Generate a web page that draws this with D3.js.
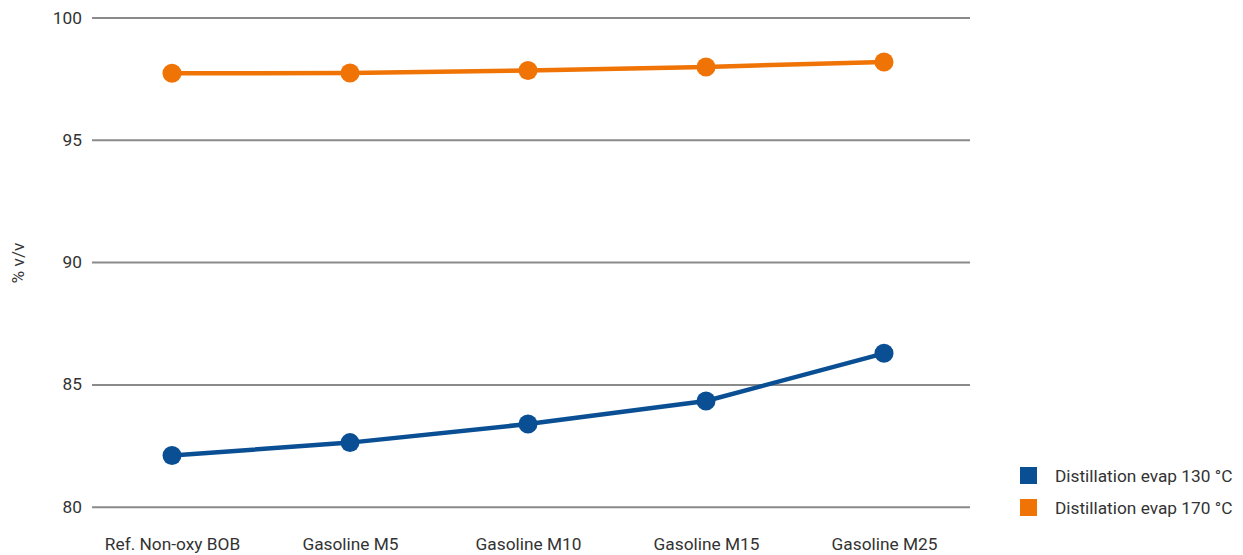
<!DOCTYPE html>
<html><head><meta charset="utf-8">
<script src="https://cdn.jsdelivr.net/npm/d3@7"></script>
<style>body{margin:0;background:#fff;} text{font-family:Roboto, "Liberation Sans", sans-serif;fill:#333;}</style>
</head><body><svg id="c" width="1243" height="555"></svg>
<script>
const categories = ["Ref. Non-oxy BOB","Gasoline M5","Gasoline M10","Gasoline M15","Gasoline M25"];
const evap130 = [82.09, 82.62, 83.38, 84.32, 86.27];
const evap170 = [97.72, 97.73, 97.83, 97.98, 98.18];
const yTicks = [80, 85, 90, 95, 100];
const seriesNames = ["Distillation evap 130 °C", "Distillation evap 170 °C"];
const colors = ["#0a4f94", "#f07305"];

const FS = 17.3;
const svg = d3.select("#c");
const x = d3.scalePoint().domain(categories).range([172, 884]);
const y = d3.scaleLinear().domain([80, 100]).range([506.7, 17.5]);

// gridlines + y labels
const gy = svg.append("g").attr("transform","translate(92,0)")
  .call(d3.axisLeft(y).tickValues(yTicks).tickSize(-878).tickPadding(10).tickFormat(d3.format("d")));
gy.select(".domain").remove();
gy.selectAll(".tick line").attr("stroke","#8a8a8a").attr("stroke-width",2);
gy.selectAll(".tick text").attr("font-size",FS).attr("fill","#333").style("font-family","Roboto, sans-serif");

// x labels
const gx = svg.append("g").attr("transform","translate(0,506.7)")
  .call(d3.axisBottom(x).tickSize(0).tickPadding(31));
gx.select(".domain").remove();
gx.selectAll(".tick text").attr("font-size",FS).attr("fill","#333").style("font-family","Roboto, sans-serif");

// y title
svg.append("text").attr("transform","translate(24,263) rotate(-90)")
  .attr("text-anchor","middle").attr("font-size",FS).text("% v/v");

const line = d3.line().x((d,i)=>x(categories[i])).y(d=>y(d));
[evap130, evap170].forEach((s,k)=>{
  svg.append("path").datum(s).attr("d",line).attr("fill","none")
    .attr("stroke",colors[k]).attr("stroke-width",4.5).attr("stroke-linejoin","round");
  svg.selectAll(null).data(s).enter().append("circle")
    .attr("cx",(d,i)=>x(categories[i])).attr("cy",d=>y(d)).attr("r",9.5).attr("fill",colors[k]);
});

// legend
const lg = svg.append("g").attr("transform","translate(1020,467)");
seriesNames.forEach((n,k)=>{
  lg.append("rect").attr("x",0).attr("y",k*32).attr("width",17).attr("height",17).attr("fill",colors[k]);
  lg.append("text").attr("x",35).attr("y",k*32+15).attr("font-size",FS).text(n);
});
</script></body></html>
